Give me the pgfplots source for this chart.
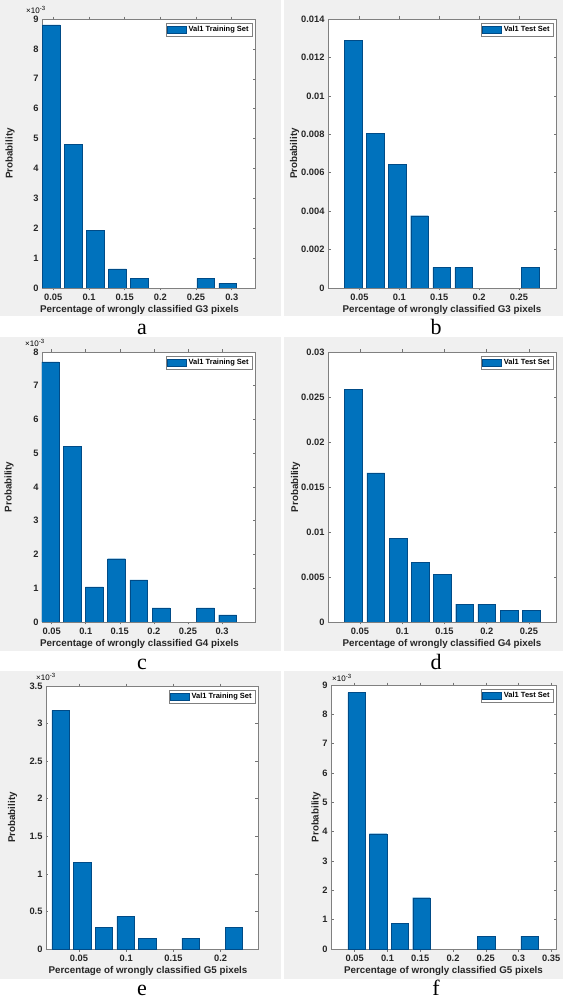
\documentclass[border=0pt]{standalone}
\usepackage{fontspec}
\setmainfont{Liberation Sans}
\newfontfamily\seriffont{Liberation Serif}
\usepackage{pgfplots}
\pgfplotsset{compat=1.18}
\definecolor{mblue}{RGB}{0,114,189}
\definecolor{medge}{RGB}{0,75,135}
\definecolor{figgray}{RGB}{240,240,240}
\definecolor{axgray}{RGB}{38,38,38}

\pgfplotsset{
  mystyle/.style={
    scale only axis,
    anchor=south west,
    scaled x ticks=false, scaled y ticks=false,
    axis background/.style={fill=white},
    axis line style={black!50, line width=0.5pt},
    tick style={black!55, line width=0.5pt},
    tick align=inside,
    major tick length=2.5pt,
    ticklabel style={font=\fontsize{9.3}{10}\selectfont\bfseries, text=axgray},
    ymin=0,
    ybar,
    legend style={at={(1,1)}, anchor=north east, xshift=-3pt, yshift=-4pt, draw=black!50,
      line width=0.4pt, font=\fontsize{7.5}{8}\selectfont\bfseries, inner sep=1.2pt,
      cells={anchor=west}},
    legend image code/.code={\draw[#1] (0pt,-3.5pt) rectangle (19pt,3.5pt);},
  },
  xlab/.style={
    every axis x label/.style={at={(axis description cs:0.5,0)}, anchor=center, yshift=-22pt,
      xshift=#1, font=\fontsize{9.8}{11}\selectfont\bfseries, text=axgray}},
  ylab/.style={ylabel={Probability},
    every axis y label/.style={at={(axis description cs:-#1,0.5)}, anchor=center, rotate=90,
      font=\fontsize{9.8}{11}\selectfont\bfseries, text=axgray}},
  barst/.style={fill=mblue, draw=medge, line width=0.4pt, bar width=#1},
}

\newcommand{\expo}{\fontsize{8}{9}\selectfont ×10\raisebox{3.2pt}{\fontsize{6}{6}\selectfont -3}}

\begin{document}
\begin{tikzpicture}[x=1pt,y=1pt]
\path[use as bounding box] (0,0) rectangle (563,999);
% gray backgrounds
\fill[figgray] (0,683) rectangle (281,999);
\fill[figgray] (284,683) rectangle (563,999);
\fill[figgray] (0,348) rectangle (281,662);
\fill[figgray] (284,348) rectangle (563,662);
\fill[figgray] (0,20) rectangle (281,328);
\fill[figgray] (284,20) rectangle (563,328);

% ---- a ----
\begin{axis}[mystyle, ylab=0.150, xlab=-9pt, at={(42pt,711pt)}, width=213pt, height=269pt,
  xmin=0.0342, xmax=0.3326, ymax=0.009,
  xtick={0.05,0.1,0.15,0.2,0.25,0.3}, xticklabels={0.05,0.1,0.15,0.2,0.25,0.3},
  ytick={0,0.001,0.002,0.003,0.004,0.005,0.006,0.007,0.008,0.009},
  yticklabels={0,1,2,3,4,5,6,7,8,9},
  xlabel={Percentage of wrongly classified G3 pixels}]
\addplot[barst=0.0247] coordinates {(0.0472,0.0088) (0.0781,0.0048) (0.1090,0.00192) (0.1399,0.00064) (0.1708,0.00032) (0.2635,0.00032) (0.2944,0.00016)};
\addlegendentry{Val1 Training Set}
\end{axis}
\node[anchor=base west, inner sep=0] at (26,985) {\expo};

% ---- b ----
\begin{axis}[mystyle, ylab=0.147, xlab=0pt, at={(328pt,711pt)}, width=228pt, height=269pt,
  xmin=0.0105, xmax=0.2964, ymax=0.014,
  xtick={0.05,0.1,0.15,0.2,0.25}, xticklabels={0.05,0.1,0.15,0.2,0.25},
  ytick={0,0.002,0.004,0.006,0.008,0.01,0.012,0.014},
  yticklabels={0,0.002,0.004,0.006,0.008,0.01,0.012,0.014},
  xlabel={Percentage of wrongly classified G3 pixels}]
\addplot[barst=0.0222] coordinates {(0.0422,0.01288) (0.0699,0.00805) (0.0976,0.00644) (0.1253,0.00376) (0.1530,0.00107) (0.1807,0.00107) (0.2638,0.00107)};
\addlegendentry{Val1 Test Set}
\end{axis}

% ---- c ----
\begin{axis}[mystyle, ylab=0.155, xlab=-9pt, at={(42pt,377pt)}, width=213pt, height=270pt,
  xmin=0.0358, xmax=0.3485, ymax=0.008,
  xtick={0.05,0.1,0.15,0.2,0.25,0.3}, xticklabels={0.05,0.1,0.15,0.2,0.25,0.3},
  ytick={0,0.001,0.002,0.003,0.004,0.005,0.006,0.007,0.008},
  yticklabels={0,1,2,3,4,5,6,7,8},
  xlabel={Percentage of wrongly classified G4 pixels}]
\addplot[barst=0.0261] coordinates {(0.0475,0.00771) (0.0801,0.00521) (0.1127,0.00104) (0.1453,0.001875) (0.1779,0.00125) (0.2105,0.000417) (0.2757,0.000417) (0.3083,0.000208)};
\addlegendentry{Val1 Training Set}
\end{axis}
\node[anchor=base west, inner sep=0] at (25,652) {\expo};

% ---- d ----
\begin{axis}[mystyle, ylab=0.142, xlab=0pt, at={(328pt,377pt)}, width=228pt, height=270pt,
  xmin=0.0121, xmax=0.282, ymax=0.03,
  xtick={0.05,0.1,0.15,0.2,0.25}, xticklabels={0.05,0.1,0.15,0.2,0.25},
  ytick={0,0.005,0.01,0.015,0.02,0.025,0.03},
  yticklabels={0,0.005,0.01,0.015,0.02,0.025,0.03},
  xlabel={Percentage of wrongly classified G4 pixels}]
\addplot[barst=0.021] coordinates {(0.0423,0.02583) (0.0686,0.01656) (0.0949,0.00927) (0.1212,0.00662) (0.1475,0.00530) (0.1738,0.00199) (0.2001,0.00199) (0.2264,0.00132) (0.2527,0.00132)};
\addlegendentry{Val1 Test Set}
\end{axis}

% ---- e ----
\begin{axis}[mystyle, ylab=0.158, xlab=-4pt, at={(46pt,50pt)}, width=212pt, height=263pt,
  xmin=0.0151, xmax=0.2395, ymax=0.0035,
  xtick={0.05,0.1,0.15,0.2}, xticklabels={0.05,0.1,0.15,0.2},
  ytick={0,0.0005,0.001,0.0015,0.002,0.0025,0.003,0.0035},
  yticklabels={0,0.5,1,1.5,2,2.5,3,3.5},
  xlabel={Percentage of wrongly classified G5 pixels}]
\addplot[barst=0.01834] coordinates {(0.0306,0.003175) (0.0535,0.001154) (0.0765,0.000289) (0.0994,0.000433) (0.1223,0.000144) (0.1682,0.000144) (0.2140,0.000289)};
\addlegendentry{Val1 Training Set}
\end{axis}
\node[anchor=base west, inner sep=0] at (36,318) {\expo};

% ---- f ----
\begin{axis}[mystyle, ylab=0.0667, xlab=0pt, at={(331pt,50pt)}, width=225pt, height=264pt,
  xmin=0.0138, xmax=0.3572, ymax=0.009,
  xtick={0.05,0.1,0.15,0.2,0.25,0.3,0.35}, xticklabels={0.05,0.1,0.15,0.2,0.25,0.3,0.35},
  ytick={0,0.001,0.002,0.003,0.004,0.005,0.006,0.007,0.008,0.009},
  yticklabels={0,1,2,3,4,5,6,7,8,9},
  xlabel={Percentage of wrongly classified G5 pixels}]
\addplot[barst=0.0264] coordinates {(0.0527,0.00874) (0.0857,0.00393) (0.1187,0.000874) (0.1517,0.001748) (0.2507,0.000437) (0.3167,0.000437)};
\addlegendentry{Val1 Test Set}
\end{axis}
\node[anchor=base west, inner sep=0] at (332,317) {\expo};

% panel letters
\begin{scope}[every node/.style={font=\seriffont\fontsize{22}{22}\selectfont, anchor=base, inner sep=0}]
\node at (142,664) {a};
\node at (436,664) {b};
\node at (142,329) {c};
\node at (436,329) {d};
\node at (142,3) {e};
\node at (436,3) {f};
\end{scope}
\end{tikzpicture}
\end{document}
